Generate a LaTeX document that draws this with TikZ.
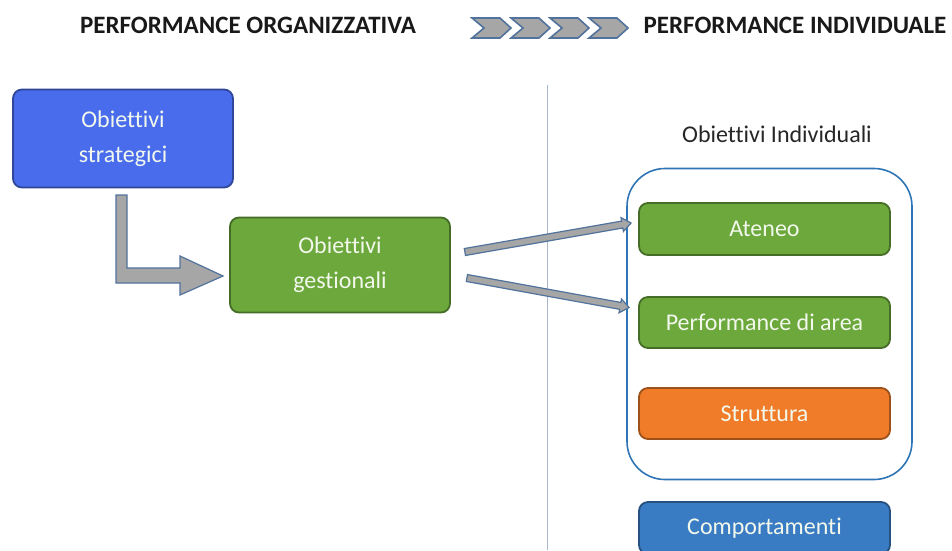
\documentclass[tikz,border=0pt]{standalone}
\usepackage{fontspec}
\setmainfont[Ligatures=NoCommon]{Carlito}
\usepackage{tikz}
\usetikzlibrary{calc,positioning}

\definecolor{stratBlue}{RGB}{72,108,236}
\definecolor{gestGreen}{RGB}{108,168,60}
\definecolor{struOrange}{RGB}{240,124,42}
\definecolor{compBlue}{RGB}{58,124,196}
\definecolor{contBlue}{RGB}{46,117,182}
\definecolor{arrGray}{RGB}{166,166,166}
\definecolor{arrLine}{RGB}{80,114,156}
\definecolor{sepGray}{RGB}{168,184,204}

\tikzset{
  box/.style={fill=#1, draw=#1!65!black, line width=1.8pt, rounded corners=9pt,
    text={rgb,255:red,242;green,248;blue,236}, align=center, inner sep=0pt,
    font=\fontsize{24}{35}\selectfont},
  title/.style={font=\fontsize{25}{28}\selectfont\bfseries, text=black!90},
  chev/.style={fill=arrGray, draw=arrLine, line width=1.6pt, line join=miter},
  blockarr/.style={fill=arrGray, draw=arrLine, line width=1.2pt, line join=miter}
}

% block arrow from #1 to #2
\newcommand\blockarrow[2]{%
  \coordinate (hb) at ($(#2)!9pt!(#1)$);
  \draw[blockarr] ($(#1)!3.5pt!90:(#2)$) -- ($(hb)!3.5pt!90:(#2)$) -- ($(hb)!7pt!90:(#2)$)
    -- (#2) -- ($(hb)!7pt!-90:(#2)$) -- ($(hb)!3.5pt!-90:(#2)$) -- ($(#1)!3.5pt!-90:(#2)$) -- cycle;
}

\begin{document}
\begin{tikzpicture}[x=1pt,y=-1pt]
  \useasboundingbox (0,0) rectangle (952,550);

  % titoli
  \node[title] (titOrg) at (248,25) {PERFORMANCE ORGANIZZATIVA};
  \node[title] (titInd) at (795,25) {PERFORMANCE INDIVIDUALE};
  \foreach \i in {0,...,3}
    \draw[chev] ($(472,18)+(\i*39,0)$) -- ++(28,0) -- ++(11,10) -- ++(-11,10) -- ++(-28,0) -- ++(12,-10) -- cycle;

  \draw[sepGray, line width=0.8pt] (547,85) -- (547,550);

  % organizzativa
  \node[box=stratBlue, minimum width=220pt, minimum height=98pt] (strat) at (123,138.5) {Obiettivi\\strategici};
  \node[box=gestGreen, minimum width=220pt, minimum height=95pt] (gest) at (340,265) {Obiettivi\\gestionali};

  \draw[blockarr] (116,195) -- (127,195) -- (127,268) -- (180,268) -- (180,256) -- (223,276)
    -- (180,295) -- (180,283) -- (116,283) -- cycle;

  % individuale
  \node[font=\fontsize{24}{28}\selectfont, text=black!85] (lblInd) at (777,134) {Obiettivi Individuali};
  \node[draw=contBlue, line width=1.6pt, rounded corners=38pt, minimum width=285pt, minimum height=311pt] (cont) at (769.5,324) {};
  \node[box=gestGreen, minimum width=251pt, minimum height=52pt] (ateneo) at (764.5,229) {Ateneo};
  \node[box=gestGreen, minimum width=251pt, minimum height=51pt] (area) at (764.5,322.5) {Performance di area};
  \node[box=struOrange, minimum width=251pt, minimum height=51pt] (strutt) at (764.5,413.5) {Struttura};
  \node[box=compBlue, minimum width=251pt, minimum height=52pt] (comport) at (764.5,528) {Comportamenti};

  \coordinate (g1) at ($(gest.east)+(14,-13)$);
  \coordinate (g2) at ($(gest.east)+(16,13)$);
  \coordinate (t1) at ($(ateneo.west)+(-7,-6)$);
  \coordinate (t2) at ($(area.west)+(-9,-15)$);
  \blockarrow{g1}{t1}
  \blockarrow{g2}{t2}
\end{tikzpicture}
\end{document}
